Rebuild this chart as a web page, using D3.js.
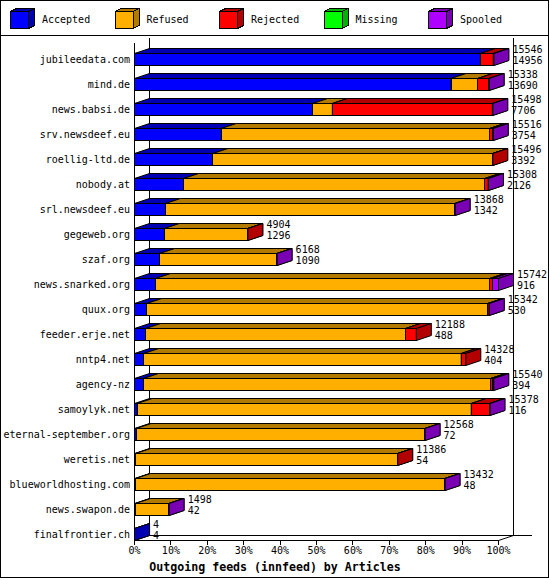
<!DOCTYPE html>
<html>
<head>
<meta charset="utf-8">
<script src="https://cdn.jsdelivr.net/npm/d3@7"></script>
<style>
  html, body { margin: 0; padding: 0; background: #fff; }
  svg { display: block; }
  text { font-family: "DejaVu Sans Mono", monospace; font-size: 10px; fill: #000; }
</style>
</head>
<body>
<svg id="chart" width="550" height="580"></svg>
<script>
// Outgoing innfeed peers, article counts per outcome
const hosts = [
  "jubileedata.com", "mind.de", "news.babsi.de", "srv.newsdeef.eu", "roellig-ltd.de",
  "nobody.at", "srl.newsdeef.eu", "gegeweb.org", "szaf.org", "news.snarked.org",
  "quux.org", "feeder.erje.net", "nntp4.net", "agency-nz", "samoylyk.net",
  "eternal-september.org", "weretis.net", "blueworldhosting.com", "news.swapon.de", "finalfrontier.ch"
];
const offered  = [15546, 15338, 15498, 15516, 15496, 15308, 13868, 4904, 6168, 15742,
                  15342, 12188, 14328, 15540, 15378, 12568, 11386, 13432, 1498, 4];
const accepted = [14956, 13690, 7706, 3754, 3392, 2126, 1342, 1296, 1090, 916,
                  530, 488, 404, 394, 116, 72, 54, 48, 42, 4];
const refused  = [0, 1150, 850, 11600, 12094, 13025, 12516, 3598, 5068, 14451,
                  14742, 11233, 13726, 15004, 14447, 12486, 11322, 13374, 1446, 0];
const rejected = [560, 490, 6920, 150, 10, 147, 0, 10, 0, 130,
                  60, 467, 198, 100, 790, 0, 10, 0, 0, 0];
const missing  = [0, 0, 0, 0, 0, 0, 0, 0, 0, 0,
                  0, 0, 0, 0, 0, 0, 0, 0, 0, 0];
const spooled  = [30, 8, 22, 12, 0, 10, 10, 0, 10, 245,
                  10, 0, 0, 42, 25, 10, 0, 10, 10, 0];

const seriesNames  = ["Accepted", "Refused", "Rejected", "Missing", "Spooled"];
const seriesColors = ["#0000ff", "#ffaf00", "#ff0000", "#00ff00", "#af00ff"];
const seriesData   = [accepted, refused, rejected, missing, spooled];
const percentTicks = [0, 10, 20, 30, 40, 50, 60, 70, 80, 90, 100];
const chartTitle   = "Outgoing feeds (innfeed) by Articles";

// 3D look: depth offset of the boxes and a darker tone for hidden faces
const DX = 15, DY = 5, BAR_H = 12;
const shade = c => { const r = d3.rgb(c); return d3.rgb(r.r * 0.7, r.g * 0.7, r.b * 0.7).formatHex(); };

const svg = d3.select("#chart");
svg.attr("shape-rendering", "crispEdges");

const maxOffered = d3.max(offered);
const x = d3.scaleLinear().domain([0, maxOffered]).range([134, 498]);
const xPct = d3.scaleLinear().domain([0, 100]).range([134, 498]);
const y = d3.scalePoint().domain(hosts).range([53, 53 + 25 * (hosts.length - 1)]);

// frame
svg.append("rect").attr("x", 0.5).attr("y", 0.5).attr("width", 548).attr("height", 577)
  .attr("fill", "#fff").attr("stroke", "#000");
svg.append("line").attr("x1", 0).attr("x2", 549).attr("y1", 35.5).attr("y2", 35.5).attr("stroke", "#000");

// legend cubes
const legend = svg.append("g");
seriesNames.forEach((name, i) => {
  const lx = 10 + i * 104.5, ly = 11, s = 18, ldx = 6, ldy = 3;
  const g = legend.append("g");
  const dark = shade(seriesColors[i]);
  g.append("rect").attr("x", lx + 0.5).attr("y", ly + 0.5).attr("width", s).attr("height", s - 1)
    .attr("fill", seriesColors[i]).attr("stroke", "#000");
  g.append("polygon")
    .attr("points", [[lx + 0.5, ly + 0.5], [lx + ldx + 0.5, ly - ldy + 0.5], [lx + s + ldx + 0.5, ly - ldy + 0.5], [lx + s + 0.5, ly + 0.5]].join(" "))
    .attr("fill", dark).attr("stroke", "#000");
  g.append("polygon")
    .attr("points", [[lx + s + 0.5, ly + 0.5], [lx + s + ldx + 0.5, ly - ldy + 0.5], [lx + s + ldx + 0.5, ly + s - 1 - ldy + 0.5], [lx + s + 0.5, ly + s - 1 + 0.5]].join(" "))
    .attr("fill", dark).attr("stroke", "#000");
  g.append("text").attr("x", lx + 32).attr("y", 20).attr("dominant-baseline", "middle").text(name);
});

// walls and floor
const walls = svg.append("g").attr("stroke", "#000").attr("fill", "none");
const x0 = x(0), x1 = x(maxOffered);
const plotTop = 38, floorFront = 540, floorBack = floorFront - DY;
walls.append("line").attr("x1", x0 + DX + 0.5).attr("x2", x0 + DX + 0.5).attr("y1", plotTop).attr("y2", floorBack + 0.5);
walls.append("line").attr("x1", x1 + DX + 0.5).attr("x2", x1 + DX + 0.5).attr("y1", plotTop).attr("y2", floorBack + 0.5);
walls.append("line").attr("x1", x0 + DX).attr("x2", x1 + DX + 19).attr("y1", floorBack + 0.5).attr("y2", floorBack + 0.5);
walls.append("line").attr("x1", x0 + 0.5).attr("x2", x0 + 0.5).attr("y1", plotTop + DY).attr("y2", floorFront + 0.5);
walls.append("path").attr("shape-rendering", "auto")
  .attr("d", `M${x0 + 0.5},${floorFront + 0.5}L${x0 + DX + 0.5},${floorBack + 0.5}M${x1 + 0.5},${floorFront + 0.5}L${x1 + DX + 0.5},${floorBack + 0.5}`);

// percentage axis along the front floor edge
const axis = svg.append("g").attr("transform", `translate(0,${floorFront})`)
  .call(d3.axisBottom(xPct).tickValues(percentTicks).tickSize(5).tickSizeOuter(0).tickPadding(2)
    .tickFormat(d => d + "%"));
axis.attr("font-family", null).attr("font-size", null);
axis.selectAll("text").attr("fill", "#000");

// stacked 3D bars
const bars = svg.append("g");
hosts.forEach((h, i) => {
  const yt = y(h);
  const g = bars.append("g");
  let cum = 0;
  seriesData.forEach((vals, s) => {
    const v = vals[i];
    if (!v) return;
    const a = x(cum), b = x(cum + v);
    cum += v;
    const dark = shade(seriesColors[s]);
    g.append("rect").attr("x", a + 0.5).attr("y", yt + 0.5).attr("width", Math.max(b - a, 0.01)).attr("height", BAR_H)
      .attr("fill", seriesColors[s]).attr("stroke", "#000");
    g.append("polygon").attr("shape-rendering", "auto")
      .attr("points", [[a + 0.5, yt + 0.5], [a + DX + 0.5, yt - DY + 0.5], [b + DX + 0.5, yt - DY + 0.5], [b + 0.5, yt + 0.5]].join(" "))
      .attr("fill", dark).attr("stroke", "#000");
    g.append("polygon").attr("shape-rendering", "auto")
      .attr("points", [[b + 0.5, yt + 0.5], [b + DX + 0.5, yt - DY + 0.5], [b + DX + 0.5, yt + BAR_H - DY + 0.5], [b + 0.5, yt + BAR_H + 0.5]].join(" "))
      .attr("fill", dark).attr("stroke", "#000");
  });
  const end = x(offered[i]);
  svg.append("text").attr("x", end + 19).attr("y", yt - 3).attr("dominant-baseline", "middle").text(offered[i]);
  svg.append("text").attr("x", end + 19).attr("y", yt + 8).attr("dominant-baseline", "middle").text(accepted[i]);
  svg.append("text").attr("x", 130).attr("y", yt + 6.5).attr("text-anchor", "end").attr("dominant-baseline", "middle").text(h);
});

// title
svg.append("text").attr("x", 275).attr("y", 567).attr("text-anchor", "middle").attr("dominant-baseline", "middle")
  .style("font-weight", "bold").style("font-size", "11.6px").text(chartTitle);
</script>
</body>
</html>
